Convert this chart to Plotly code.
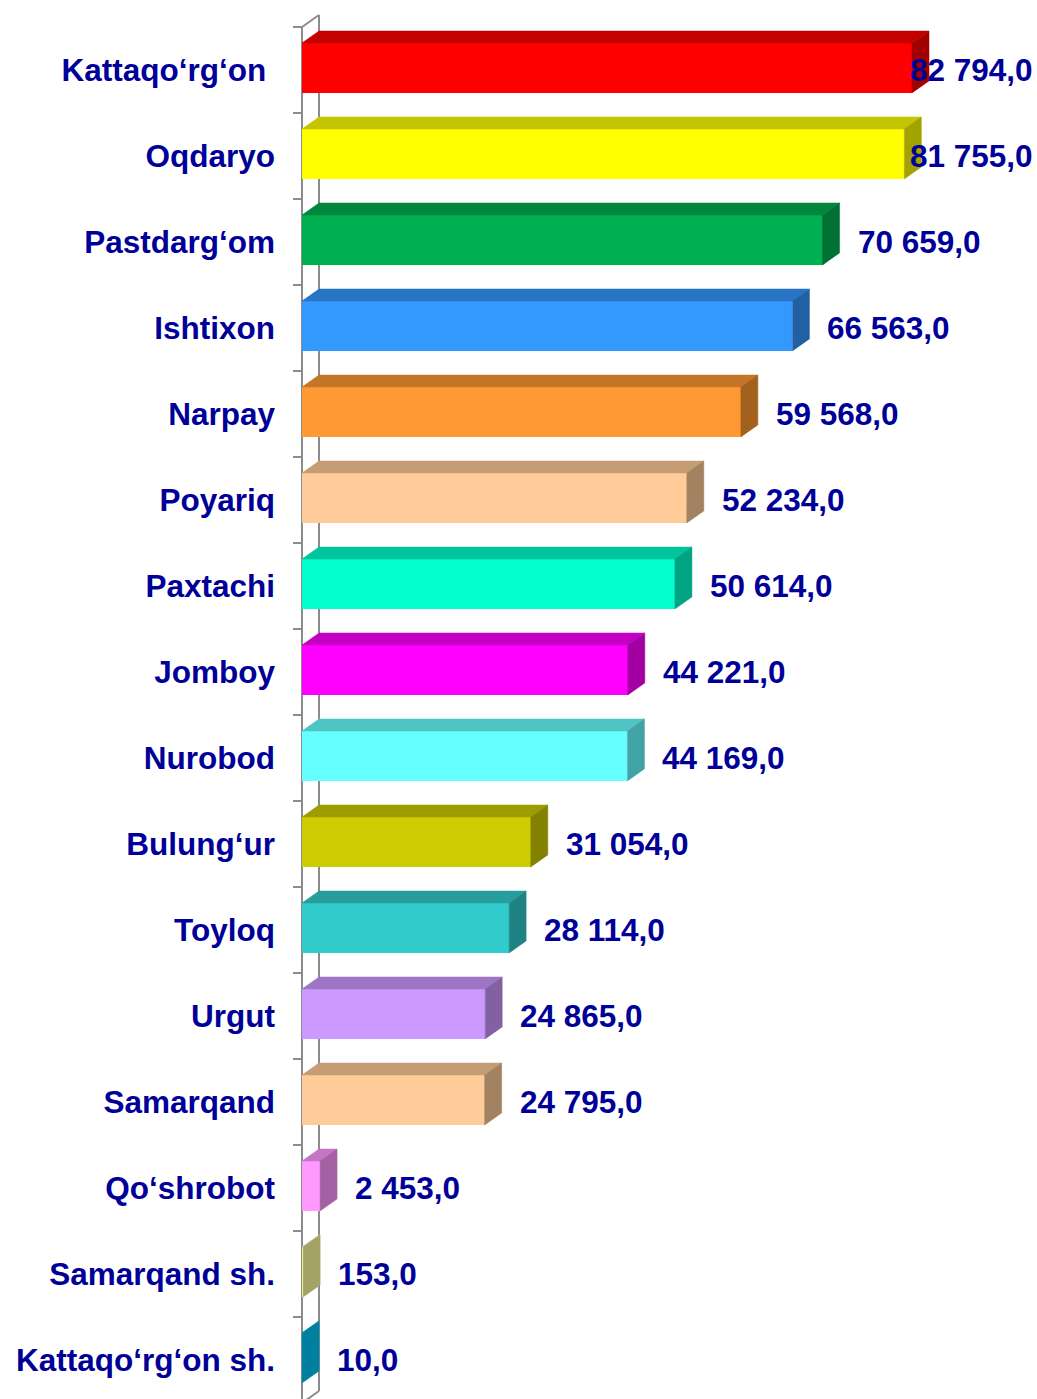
import plotly.graph_objects as go

# ---------------- data ----------------
categories = ["Kattaqo‘rg‘on\u00a0", "Oqdaryo", "Pastdarg‘om", "Ishtixon", "Narpay",
              "Poyariq", "Paxtachi", "Jomboy", "Nurobod", "Bulung‘ur", "Toyloq",
              "Urgut", "Samarqand", "Qo‘shrobot", "Samarqand sh.", "Kattaqo‘rg‘on sh."]
values = [82794.0, 81755.0, 70659.0, 66563.0, 59568.0, 52234.0, 50614.0, 44221.0,
          44169.0, 31054.0, 28114.0, 24865.0, 24795.0, 2453.0, 153.0, 10.0]
front_colors = ["#FF0000", "#FFFF00", "#00B050", "#3399FF", "#FF9933", "#FFCC99",
                "#00FFCC", "#FF00FF", "#66FFFF", "#CCCC00", "#33CCCC", "#CC99FF",
                "#FFCC99", "#FF99FF", "#FFFF9F", "#00C8FA"]

def fmt(v):
    return f"{v:,.1f}".replace(",", " ").replace(".", ",")

value_labels = [fmt(v) for v in values]

# ---------------- geometry (pixels -> data units) ----------------
W, H = 1037, 1399
ML, MR, MT, MB = 290, 72, 10, 0
PX_PER_UNIT = 610 / 82794          # horizontal scale
BAND = 86.0                         # px per category
plot_w = W - ML - MR
plot_h = H - MT - MB
x0 = -(302 - ML) / PX_PER_UNIT
x1 = x0 + plot_w / PX_PER_UNIT
y_top = -0.5 - (27 - MT) / BAND
y_bot = y_top + plot_h / BAND

DX = 17 / PX_PER_UNIT               # depth in x units
DY = 12 / BAND                      # depth in y units
BAR_W = 0.58
BAR_OFF = -0.314
TICK = 9 / PX_PER_UNIT

def shade(hexc, f):
    h = hexc.lstrip("#")
    r, g, b = (int(h[i:i + 2], 16) for i in (0, 2, 4))
    return "#%02X%02X%02X" % (int(r * f), int(g * f), int(b * f))

n = len(categories)
ys = list(range(n))

fig = go.Figure()

# front faces
fig.add_trace(go.Bar(
    x=values, y=ys, orientation="h", width=BAR_W, offset=BAR_OFF,
    marker=dict(color=front_colors, line=dict(width=0)),
    hoverinfo="skip", showlegend=False))

# top and side faces
for i, (v, c) in enumerate(zip(values, front_colors)):
    yt = i + BAR_OFF
    yb = yt + BAR_W
    fig.add_trace(go.Scatter(
        x=[0, v, v + DX, DX, 0], y=[yt, yt, yt - DY, yt - DY, yt],
        fill="toself", fillcolor=shade(c, 0.77), mode="lines",
        line=dict(width=0.5, color=shade(c, 0.77)), hoverinfo="skip", showlegend=False))
    fig.add_trace(go.Scatter(
        x=[v, v + DX, v + DX, v, v], y=[yt, yt - DY, yb - DY, yb, yt],
        fill="toself", fillcolor=shade(c, 0.64), mode="lines",
        line=dict(width=0.5, color=shade(c, 0.64)), hoverinfo="skip", showlegend=False))

# wall lines and ticks (below traces)
wall = dict(color="#8C8C8C", width=2)
shapes = []
top_b, bot_b = -0.5, n - 0.5
shapes.append(dict(type="line", xref="x", yref="y", x0=0, x1=0, y0=top_b, y1=bot_b + 1, line=wall, layer="below"))
shapes.append(dict(type="line", xref="x", yref="y", x0=DX, x1=DX, y0=top_b - DY, y1=bot_b - DY, line=wall, layer="below"))
shapes.append(dict(type="line", xref="x", yref="y", x0=0, x1=DX, y0=top_b, y1=top_b - DY, line=wall, layer="below"))
shapes.append(dict(type="line", xref="x", yref="y", x0=0, x1=DX, y0=bot_b, y1=bot_b - DY, line=wall, layer="below"))
for k in range(n + 1):
    b = k - 0.5
    shapes.append(dict(type="line", xref="x", yref="y", x0=-TICK, x1=0, y0=b, y1=b, line=wall, layer="below"))

# value labels
font_txt = dict(family="Liberation Sans, Arial, sans-serif", size=31.5, color="#000099", weight="bold")
label_gap = 33 / PX_PER_UNIT
label_max = (908 - 302) / PX_PER_UNIT
annotations = []
for i, (v, t) in enumerate(zip(values, value_labels)):
    annotations.append(dict(x=min(v + label_gap, label_max), y=i, xref="x", yref="y",
                            text=t, showarrow=False, xanchor="left", yanchor="middle",
                            font=font_txt))

fig.update_layout(
    width=W, height=H,
    margin=dict(l=ML, r=MR, t=MT, b=MB, pad=0, autoexpand=False),
    paper_bgcolor="white", plot_bgcolor="white",
    shapes=shapes, annotations=annotations,
    xaxis=dict(range=[x0, x1], visible=False, fixedrange=True, automargin=False),
    yaxis=dict(range=[y_bot, y_top], tickmode="array", tickvals=ys, ticktext=categories,
               ticks="", showline=False, showgrid=False, zeroline=False, automargin=False,
               tickfont=font_txt, ticklabelstandoff=14, fixedrange=True),
    bargap=0,
)

fig.write_html("out.html", config={"displayModeBar": False},
               post_script="document.body.style.margin='0px';document.body.style.overflow='hidden';")
